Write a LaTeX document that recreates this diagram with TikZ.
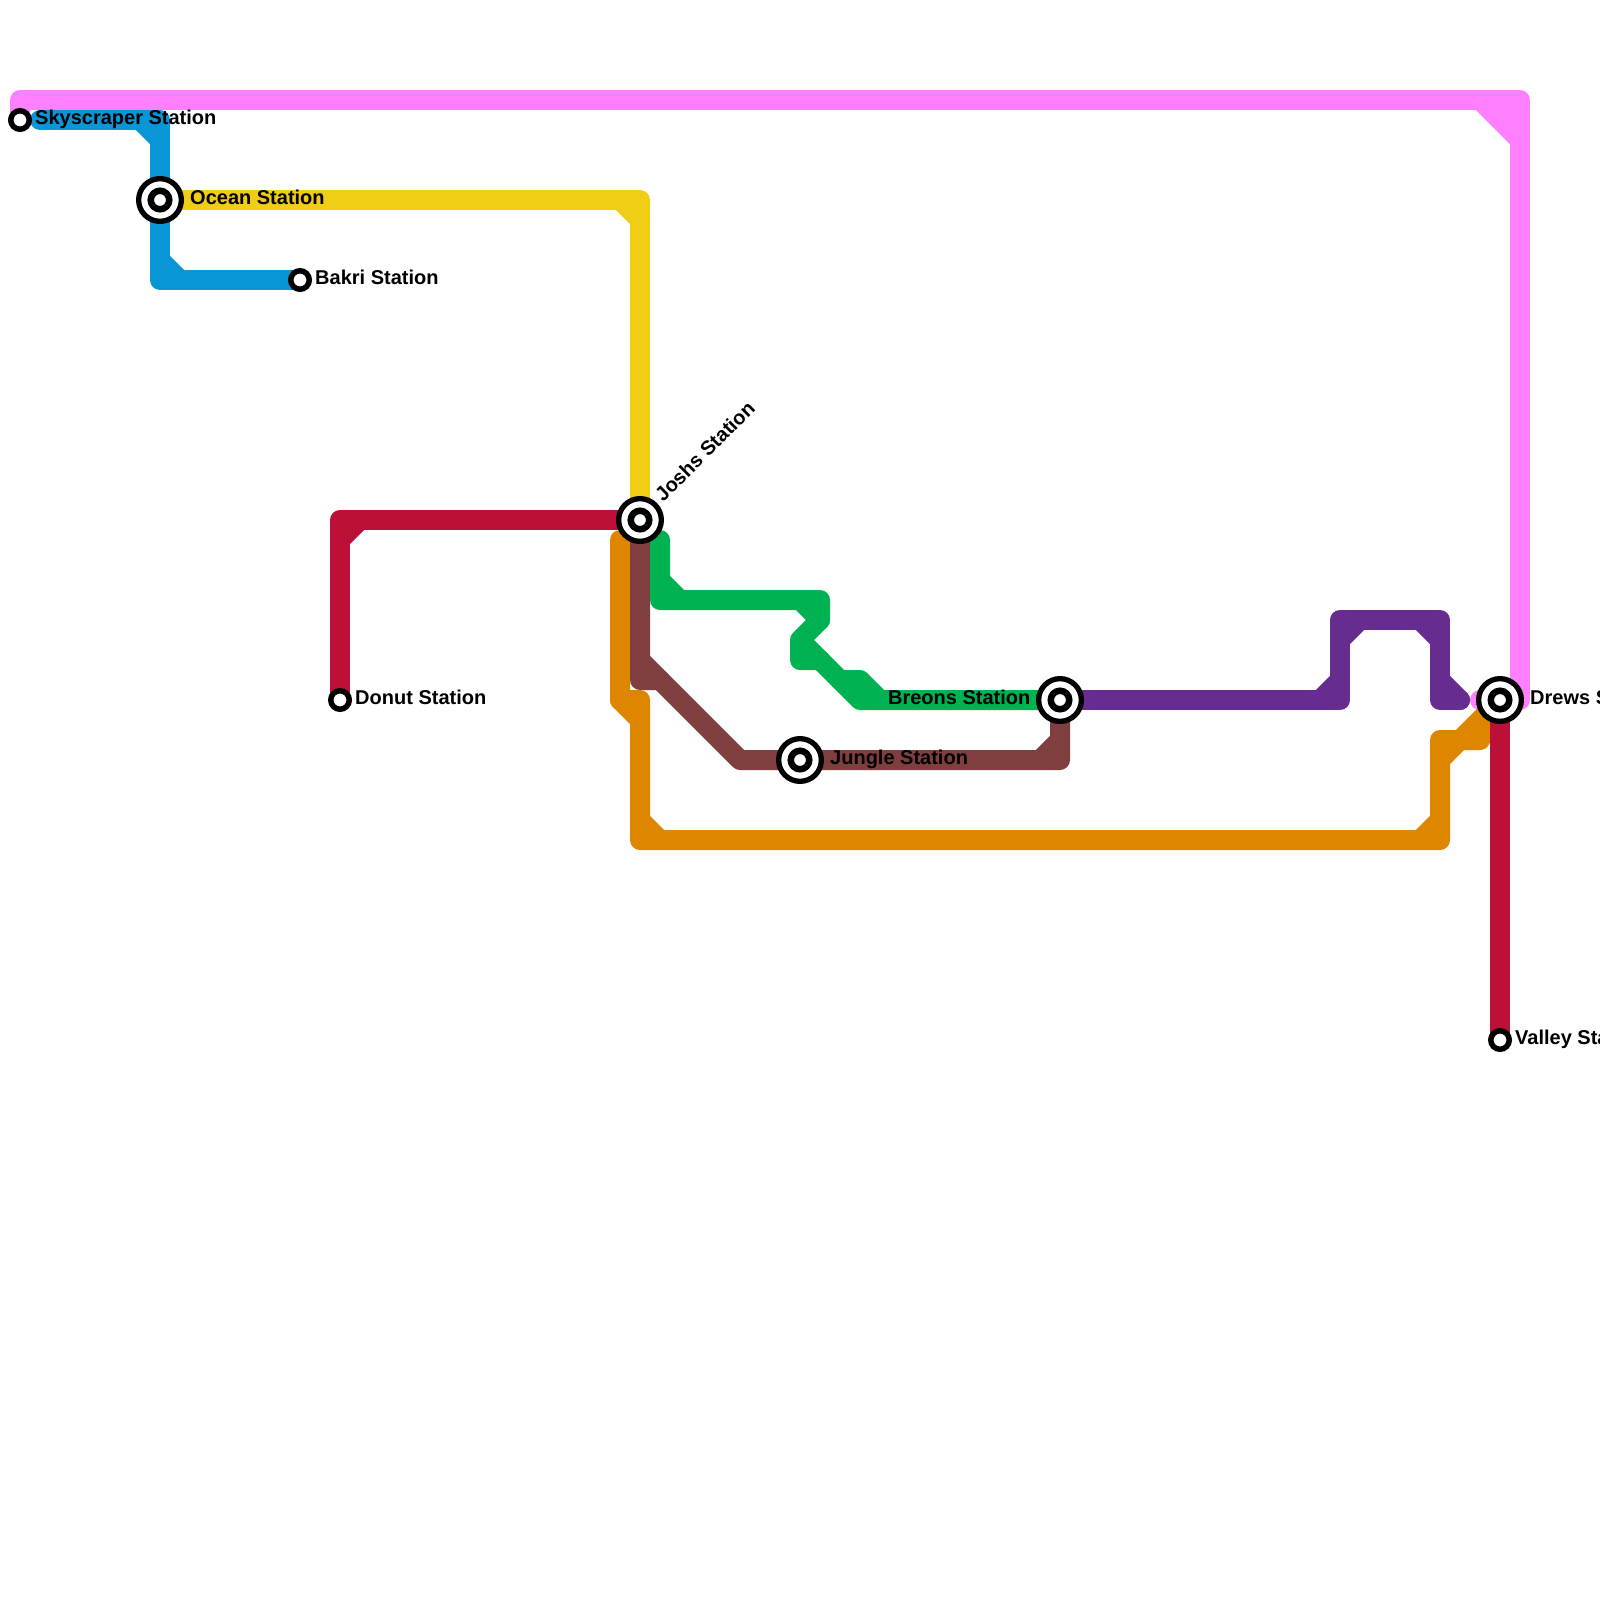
\documentclass[tikz,border=0pt]{standalone}
\usepackage{fontspec}
\setmainfont{Liberation Sans}
\usetikzlibrary{positioning,backgrounds}

\definecolor{pinkline}{HTML}{FF80FF}
\definecolor{blueline}{HTML}{0896D7}
\definecolor{yellowline}{HTML}{F0CE15}
\definecolor{redline}{HTML}{BD1038}
\definecolor{orangeline}{HTML}{DF8600}
\definecolor{brownline}{HTML}{7F3F3F}
\definecolor{greenline}{HTML}{00B251}
\definecolor{purpleline}{HTML}{662C90}

\begin{document}
\begin{tikzpicture}[
        x=1pt,
        y=-1pt,
        route/.style={draw, line width=20pt, line cap=round, line join=round},
        stop/.style={
            circle,
            draw=black,
            fill=white,
            line width=5.5pt,
            minimum size=18.5pt,
            inner sep=0pt
        },
        hub/.style={
            circle,
            draw=black,
            fill=white,
            line width=5.3pt,
            minimum size=42.7pt,
            inner sep=0pt,
            path picture={\draw[line width=6.5pt] (path picture bounding box.center) circle (9.25pt);}
        },
        sign/.style={
            font=\fontsize{20}{24}\selectfont\bfseries,
            text height=14pt,
            text depth=0pt,
            inner sep=0pt,
            yshift=2.5pt
        }
    ]
        \useasboundingbox (0,0) rectangle (1600,1600);

        % -- Stations --
        \node [stop] (skyscraper) at (20,120) {};
        \node [hub] (ocean) at (160,200) {};
        \node [stop] (bakri) at (300,280) {};
        \node [stop] (donut) at (340,700) {};
        \node [hub] (joshs) at (640,520) {};
        \node [hub] (jungle) at (800,760) {};
        \node [hub] (breons) at (1060,700) {};
        \node [hub] (drews) at (1500,700) {};
        \node [stop] (valley) at (1500,1040) {};

        % free ends of the lines
        \coordinate (bluestart) at (40,120);
        \coordinate (pinkend) at (1480,700);
        \coordinate (orangestart) at (620,540);
        \coordinate (greenstart) at (660,540);
        \coordinate (purpleend) at (1460,700);

        % -- Labels --
        \node [sign, right=3pt of skyscraper] (skyscraperlabel) {Skyscraper Station};
        \node [sign, right=6pt of ocean] (oceanlabel) {Ocean Station};
        \node [sign, right=3pt of bakri] (bakrilabel) {Bakri Station};
        \node [sign, right=3pt of donut] (donutlabel) {Donut Station};
        \node [sign, rotate=45, anchor=west, xshift=3pt, yshift=1pt] (joshslabel) at (joshs.45) {Joshs Station};
        \node [sign, right=6pt of jungle] (junglelabel) {Jungle Station};
        \node [sign, left=5.5pt of breons] (breonslabel) {Breons Station};
        \node [sign, right=6pt of drews] (drewslabel) {Drews Station};
        \node [sign, right=3pt of valley] (valleylabel) {Valley Station};

        % -- Lines --
        \begin{pgfonlayer}{background}
            % pink
            \path [route, pinkline] (skyscraper.center) -- (20,100) -- (1520,100) -- (1520,700) -- (pinkend);
            \path [route, pinkline] (1480,100) -- (1520,140);
            \path [route, pinkline] (1500,100) -- (1520,120);

            % blue
            \path [route, blueline] (bluestart) -- (160,120) -- (160,280) -- (bakri.center);
            \path [route, blueline] (140,120) -- (160,140);
            \path [route, blueline] (160,260) -- (180,280);

            % yellow
            \path [route, yellowline] (ocean.center) -- (640,200) -- (joshs.center);
            \path [route, yellowline] (620,200) -- (640,220);

            % red
            \path [route, redline] (donut.center) -- (340,520) -- (joshs.center);
            \path [route, redline] (340,540) -- (360,520);

            % orange
            \path [route, orangeline] (orangestart) -- (620,700) -- (640,700) -- (640,840) -- (1440,840) -- (1440,740) -- (1480,740) -- (drews.center);
            \path [route, orangeline] (620,700) -- (640,720);
            \path [route, orangeline] (640,820) -- (660,840);
            \path [route, orangeline] (1420,840) -- (1440,820);
            \path [route, orangeline] (1440,760) -- (1460,740) -- (drews.center);

            % red, right part
            \path [route, redline] (drews.center) -- (valley.center);

            % brown
            \path [route, brownline] (joshs.center) -- (640,680) -- (660,680) -- (740,760) -- (1060,760) -- (breons.center);
            \path [route, brownline] (640,660) -- (660,680);
            \path [route, brownline] (1040,760) -- (1060,740);

            % green
            \path [route, greenline] (greenstart) -- (660,600) -- (820,600) -- (820,620) -- (800,640) -- (800,660) -- (820,660) -- (800,640);
            \path [route, greenline] (660,580) -- (680,600);
            \path [route, greenline] (800,600) -- (820,620);
            \path [route, greenline] (820,660) -- (860,700) -- (breons.center);
            \path [route, greenline] (840,680) -- (860,680) -- (880,700);

            % purple
            \path [route, purpleline] (breons.center) -- (1340,700) -- (1340,620) -- (1440,620) -- (1440,700) -- (purpleend);
            \path [route, purpleline] (1320,700) -- (1340,680);
            \path [route, purpleline] (1340,640) -- (1360,620);
            \path [route, purpleline] (1420,620) -- (1440,640);
            \path [route, purpleline] (1440,680) -- (1460,700);
        \end{pgfonlayer}
\end{tikzpicture}
\end{document}
